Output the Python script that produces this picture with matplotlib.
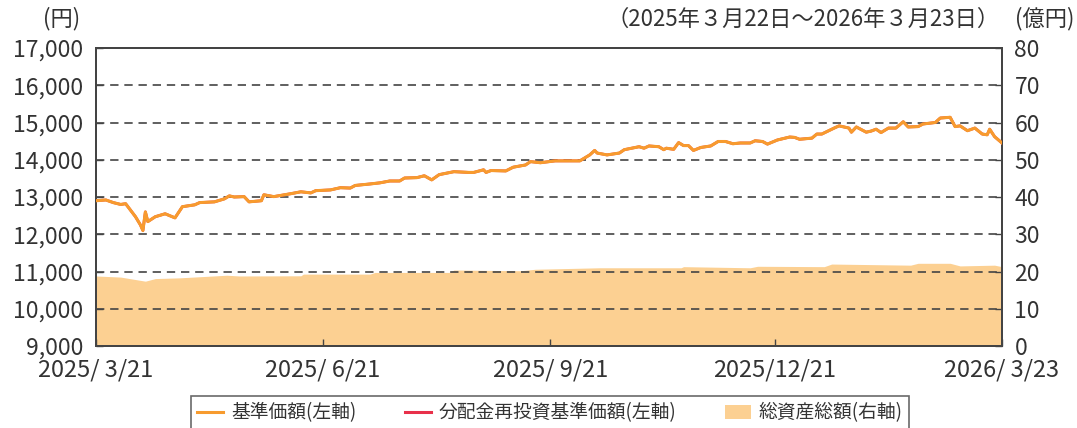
import matplotlib
matplotlib.use("Agg")
import matplotlib.pyplot as plt
from matplotlib.lines import Line2D
from matplotlib.patches import Patch
import pandas as pd

plt.rcParams['font.family'] = ['Noto Sans CJK JP', 'DejaVu Sans']

start_date = "2025-03-21"

# 基準価額 (days from start, yen)
nav_days = [0, 4, 7, 10, 12, 16, 18, 19, 20, 21, 24, 28, 32, 35, 40, 42, 48, 52, 54, 56,
            60, 62, 67, 68, 72, 79, 83, 87, 89, 95, 99, 103, 105, 111, 115, 119, 123, 125,
            130, 133, 136, 139, 145, 151, 153, 157, 158, 160, 166, 169, 174, 176, 180, 186,
            194, 196, 200, 202, 203, 207, 212, 214, 220, 222, 224, 228, 230, 231, 234, 236,
            238, 240, 242, 245, 249, 252, 255, 258, 261, 265, 267, 270, 272, 276, 281, 283,
            285, 290, 292, 294, 299, 301, 305, 306, 308, 312, 314, 316, 318, 321, 324, 327,
            329, 333, 335, 340, 342, 346, 348, 350, 353, 356, 359, 361, 362, 364, 367]
nav_values = [12900, 12920, 12850, 12800, 12820, 12470, 12250, 12100, 12600, 12340, 12470,
              12550, 12440, 12740, 12790, 12850, 12870, 12950, 13030, 13000, 13010, 12870,
              12900, 13060, 13010, 13090, 13140, 13110, 13170, 13190, 13250, 13240, 13310,
              13350, 13380, 13430, 13430, 13510, 13520, 13570, 13460, 13600, 13680, 13660,
              13660, 13730, 13660, 13710, 13700, 13800, 13860, 13950, 13920, 13970, 13970,
              13970, 14130, 14250, 14180, 14130, 14180, 14270, 14350, 14310, 14370, 14350,
              14270, 14310, 14280, 14460, 14380, 14380, 14250, 14330, 14370, 14490, 14490,
              14430, 14450, 14450, 14510, 14490, 14420, 14530, 14610, 14600, 14550, 14580,
              14690, 14690, 14850, 14910, 14850, 14740, 14880, 14740, 14770, 14820, 14730,
              14850, 14850, 15020, 14880, 14890, 14960, 15000, 15120, 15140, 14890, 14910,
              14780, 14850, 14690, 14670, 14820, 14620, 14450]
# 分配金再投資基準価額 (no distributions: same as 基準価額)
reinvest_values = list(nav_values)

# 総資産総額 (days from start, 億円)
aum_days = [0, 10, 20, 24, 34, 53, 58, 83, 84, 111, 113, 143, 145, 172, 178, 204, 237,
            238, 265, 268, 295, 298, 330, 333, 346, 350, 364, 367]
aum_values = [18.8, 18.5, 17.4, 18.1, 18.3, 19.0, 18.8, 18.85, 19.3, 19.3, 19.75, 19.75,
              20.4, 20.2, 20.6, 21.0, 21.0, 21.3, 21.0, 21.4, 21.3, 22.0, 21.7, 22.2, 22.2,
              21.5, 21.7, 21.3]

x_tick_dates = ["2025-03-21", "2025-06-21", "2025-09-21", "2025-12-21", "2026-03-23"]
x_tick_labels = ["2025/ 3/21", "2025/ 6/21", "2025/ 9/21", "2025/12/21", "2026/ 3/23"]
left_ticks = [9000, 10000, 11000, 12000, 13000, 14000, 15000, 16000, 17000]
right_ticks = [0, 10, 20, 30, 40, 50, 60, 70, 80]

labels = ["基準価額(左軸)", "分配金再投資基準価額(左軸)", "総資産総額(右軸)"]
title_period = "（2025年３月22日～2026年３月23日）"

c_nav = "#F79B2E"
c_re = "#E8304A"
c_aum = "#FCD092"
c_txt = "#333333"

base = pd.Timestamp(start_date)
nav_dates = [base + pd.Timedelta(days=d) for d in nav_days]
aum_dates = [base + pd.Timedelta(days=d) for d in aum_days]

fig = plt.figure(figsize=(10.77, 4.28), dpi=100)
ax = fig.add_axes([96/1077, 1-346/428, (1002-96)/1077, (346-48)/428])
ax2 = ax.twinx()

ax2.fill_between(aum_dates, 0, aum_values, color=c_aum, lw=0, zorder=1)
ax2.set_ylim(0, 80)
ax2.set_yticks(right_ticks)

ax.set_zorder(ax2.get_zorder() + 1)
ax.patch.set_visible(False)

ax.plot(nav_dates, reinvest_values, color=c_re, lw=2, zorder=3)
ax.plot(nav_dates, nav_values, color=c_nav, lw=2.2, zorder=4)
ax.set_ylim(9000, 17000)
ax.set_yticks(left_ticks)
ax.set_yticklabels([f"{v:,}" for v in left_ticks])
for v in left_ticks[1:-1]:
    ax.axhline(v, color="#444444", lw=1.2, ls=(0, (5, 3.5)), zorder=2)

xt = [pd.Timestamp(d) for d in x_tick_dates]
ax.set_xlim(xt[0], xt[-1])
ax.set_xticks(xt)
ax.set_xticklabels(x_tick_labels)

for a in (ax, ax2):
    for s in a.spines.values():
        s.set_color("#444444")
        s.set_linewidth(1.4)
    a.tick_params(direction="in", length=5, width=1, color="#444444",
                  labelsize=16.5, labelcolor=c_txt)
ax.tick_params(axis="x", pad=9, labelsize=17)
ax.tick_params(axis="y", pad=9)
ax2.tick_params(axis="y", pad=9)

fig.text(62/1077, 1-19/428, "(円)", ha="center", va="center", fontsize=16, color=c_txt)
fig.text(1000/1077, 1-19/428, title_period, ha="right", va="center", fontsize=16, color=c_txt)
fig.text(1074/1077, 1-19/428, "(億円)", ha="right", va="center", fontsize=16, color=c_txt)

handles = [Line2D([0], [0], color=c_nav, lw=2.2),
           Line2D([0], [0], color=c_re, lw=2.2),
           Patch(facecolor=c_aum, edgecolor="none")]
leg = fig.legend(handles, labels, loc="upper center", bbox_to_anchor=(550/1077, 1-396/428),
                 ncol=3, frameon=True, fontsize=13.5, fancybox=False, handlelength=1.4,
                 columnspacing=2.6, handletextpad=0.4, borderpad=0.35, borderaxespad=0)
leg.get_frame().set_edgecolor("#444444")
leg.get_frame().set_linewidth(1.2)
for t in leg.get_texts():
    t.set_color(c_txt)

fig.savefig("out.png", dpi=100)
